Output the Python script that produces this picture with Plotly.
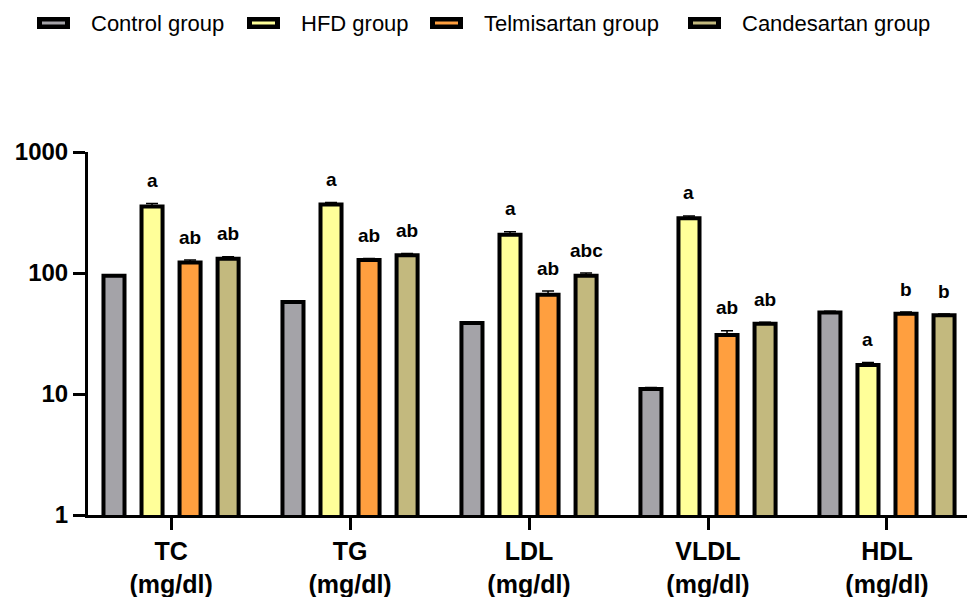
import plotly.graph_objects as go
import math

# ---------------- data ----------------
categories = ["TC", "TG", "LDL", "VLDL", "HDL"]
unit_label = "(mg/dl)"
series_names = ["Control group", "HFD group", "Telmisartan group", "Candesartan group"]

control = [95, 57.5, 38.6, 11.0, 47.2]
hfd = [355, 368, 207, 284, 17.4]
telmisartan = [122, 128, 66, 30.8, 46]
candesartan = [131, 140, 95, 38, 44.8]

control_err = [1.5, 1.0, 0.8, 0.3, 1.2]
hfd_err = [20, 15, 12, 12, 0.8]
telmisartan_err = [6, 4, 5, 2.5, 1.5]
candesartan_err = [5, 5, 5, 1.2, 1.0]

control_letters = ["", "", "", "", ""]
hfd_letters = ["a", "a", "a", "a", "a"]
telmisartan_letters = ["ab", "ab", "ab", "ab", "b"]
candesartan_letters = ["ab", "ab", "abc", "ab", "b"]

y_tick_values = [1, 10, 100, 1000]
y_tick_labels = ["1", "10", "100", "1000"]

# ---------------- style ----------------
colors = ["#a4a3a8", "#ffff99", "#ff9f3f", "#c3b97e"]
FONT = "Liberation Sans, Arial, sans-serif"

W, H = 967, 597
ML, MR, MT, MB = 88, 0, 152, 82
PW, PH = W - ML - MR, H - MT - MB

BARGAP = 0.15
BARGROUPGAP = 0.447

values = [control, hfd, telmisartan, candesartan]
errors = [control_err, hfd_err, telmisartan_err, candesartan_err]
letters = [control_letters, hfd_letters, telmisartan_letters, candesartan_letters]

xpos = list(range(len(categories)))

fig = go.Figure()
for j, name in enumerate(series_names):
    fig.add_trace(go.Bar(
        x=xpos, y=values[j], name=name,
        marker=dict(color=colors[j], line=dict(color="black", width=4)),
        error_y=dict(type="data", array=errors[j], symmetric=False,
                     arrayminus=[0] * len(categories),
                     color="black", thickness=1.5, width=6),
        showlegend=False,
    ))

# letter annotations above bars
n = len(series_names)
slot = (1 - BARGAP) / n
annotations = []
for j in range(n):
    off = -(1 - BARGAP) / 2 + slot * (j + 0.5)
    for i in range(len(categories)):
        t = letters[j][i]
        if not t:
            continue
        annotations.append(dict(
            x=i + off, y=math.log10(values[j][i] + errors[j][i]),
            xref="x", yref="y", text="<b>%s</b>" % t, showarrow=False,
            yanchor="middle", xanchor="center", yshift=23,
            font=dict(family=FONT, size=19, color="black"),
        ))

# manual legend (pixel -> paper)
def px_x(p):
    return (p - ML) / PW

def px_y(p):
    return (H - MB - p) / PH

legend_left = [37, 247, 430, 688]
shapes = []
for j, name in enumerate(series_names):
    sx = legend_left[j]
    shapes.append(dict(type="rect", xref="paper", yref="paper",
                       x0=px_x(sx), x1=px_x(sx + 33), y0=px_y(29), y1=px_y(17),
                       fillcolor="black", line=dict(width=0)))
    shapes.append(dict(type="rect", xref="paper", yref="paper",
                       x0=px_x(sx + 5), x1=px_x(sx + 28), y0=px_y(24.5), y1=px_y(21.5),
                       fillcolor=colors[j], line=dict(width=0)))
    annotations.append(dict(
        x=px_x(sx + 52), y=px_y(23), xref="paper", yref="paper",
        text=name, showarrow=False, xanchor="left", yanchor="middle",
        font=dict(family=FONT, size=22, color="black"),
    ))

tick_text = ["<b>%s</b><br><b>%s</b>" % (c, unit_label) for c in categories]

fig.update_layout(
    width=W, height=H,
    margin=dict(l=ML, r=MR, t=MT, b=MB, pad=0),
    paper_bgcolor="white", plot_bgcolor="white",
    barmode="group", bargap=BARGAP, bargroupgap=BARGROUPGAP,
    font=dict(family=FONT, color="black"),
    annotations=annotations, shapes=shapes,
    xaxis=dict(
        range=[-0.464, 4.447], tickmode="array", tickvals=xpos, ticktext=tick_text,
        showline=True, linecolor="black", linewidth=3,
        ticks="outside", ticklen=12, tickwidth=3, tickcolor="black",
        showgrid=False, zeroline=False,
        tickfont=dict(family=FONT, size=25, color="black"),
    ),
    yaxis=dict(
        type="log", range=[0, 3], tickmode="array",
        tickvals=y_tick_values, ticktext=["<b>%s</b>" % t for t in y_tick_labels],
        showline=True, linecolor="black", linewidth=3,
        ticks="outside", ticklen=12, tickwidth=3, tickcolor="black",
        showgrid=False, zeroline=False,
        tickfont=dict(family=FONT, size=24, color="black"),
    ),
)

fig.write_html(
    "out.html",
    config={"displayModeBar": False},
    post_script="document.body.style.margin='0';document.body.style.overflow='hidden';",
)
